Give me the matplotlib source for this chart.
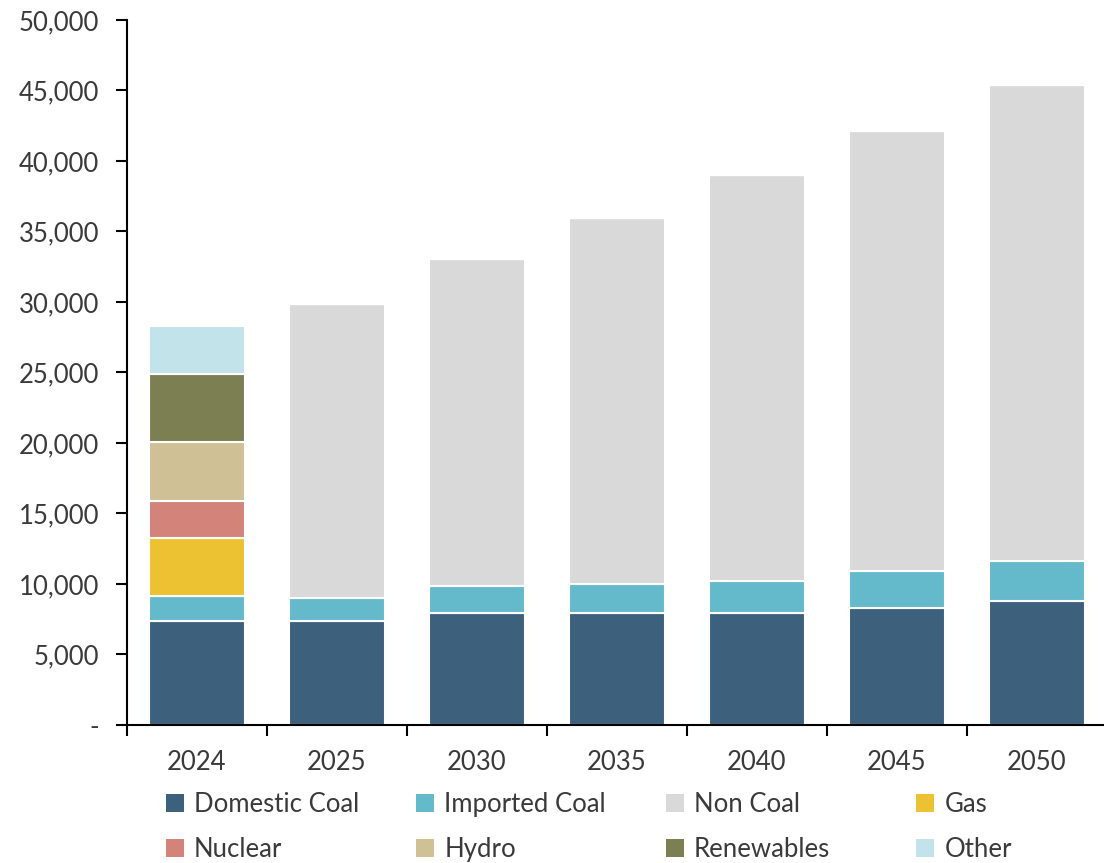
import numpy as np
import matplotlib.pyplot as plt
from matplotlib.ticker import FuncFormatter, FixedLocator
from matplotlib.patches import Patch

plt.rcParams['font.family'] = ['Lato', 'DejaVu Sans']

years = ['2024', '2025', '2030', '2035', '2040', '2045', '2050']

# values
domestic_coal = [7400, 7380, 7940, 7940, 7940, 8300, 8790]
imported_coal = [1750, 1630, 1920, 2060, 2270, 2620, 2840]
non_coal = [0, 20860, 23190, 25960, 28790, 31210, 33760]
gas = [4100, 0, 0, 0, 0, 0, 0]
nuclear = [2630, 0, 0, 0, 0, 0, 0]
hydro = [4180, 0, 0, 0, 0, 0, 0]
renewables = [4820, 0, 0, 0, 0, 0, 0]
other = [3410, 0, 0, 0, 0, 0, 0]

series = [
    ('Domestic Coal', domestic_coal, '#3d617c'),
    ('Imported Coal', imported_coal, '#64b9cb'),
    ('Non Coal', non_coal, '#d9d9d9'),
    ('Gas', gas, '#ecc232'),
    ('Nuclear', nuclear, '#d4837a'),
    ('Hydro', hydro, '#cfc095'),
    ('Renewables', renewables, '#7b7f51'),
    ('Other', other, '#c2e3ea'),
]

fig = plt.figure(figsize=(11.04, 8.63), dpi=100)
ax = fig.add_axes([0.115, 0.160, 0.885, 0.817])

x = np.arange(len(years))
bottom = np.zeros(len(years))
for name, vals, col in series:
    vals = np.array(vals, dtype=float)
    ax.bar(x, vals, bottom=bottom, width=0.686, color=col,
           edgecolor='white', linewidth=1.5, label=name)
    bottom += vals

ax.set_xlim(-0.5, 6.48)
ax.set_ylim(0, 50000)
ax.set_yticks(np.arange(0, 50001, 5000))
ax.yaxis.set_major_formatter(
    FuncFormatter(lambda v, p: '-' if v == 0 else f'{int(v):,}'))

ax.set_xticks(x)
ax.set_xticklabels(years)
ax.xaxis.set_minor_locator(FixedLocator(np.arange(-0.5, 6.6, 1.0)))
ax.tick_params(axis='x', which='major', length=0, pad=18,
               labelsize=18.5, labelcolor='#3a3a3a')
ax.tick_params(axis='x', which='minor', length=8, width=1.5, direction='out')
ax.tick_params(axis='y', length=8, width=1.5, labelsize=18.5,
               labelcolor='#3a3a3a', pad=12)

for s in ['top', 'right']:
    ax.spines[s].set_visible(False)
for s in ['left', 'bottom']:
    ax.spines[s].set_linewidth(1.5)

# legend: four columns, laid out row-wise
col_x = [0.150, 0.377, 0.603, 0.830]
for j in range(4):
    pair = [series[j], series[j + 4]]
    handles = [Patch(facecolor=c, edgecolor='none') for _, _, c in pair]
    labels = [n for n, _, _ in pair]
    fig.legend(handles, labels, loc='upper left',
               bbox_to_anchor=(col_x[j], 0.082), frameon=False,
               fontsize=18.5, borderpad=0, borderaxespad=0,
               handlelength=0.7, handleheight=0.7, handletextpad=0.4,
               labelspacing=0.78, labelcolor='#3a3a3a')

fig.savefig('out.png', dpi=100)
